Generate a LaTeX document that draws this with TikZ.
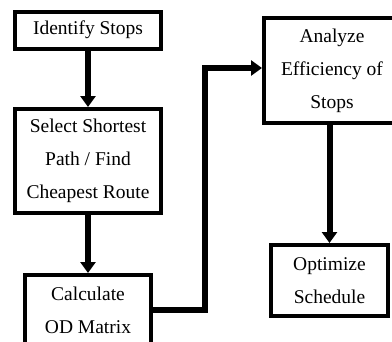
\documentclass[tikz,border=0pt]{standalone}
\usepackage{fontspec}
\setmainfont{Liberation Serif}
\usetikzlibrary{arrows.meta}
\begin{document}
\begin{tikzpicture}[
    x=1pt,y=-1pt,
    >={Triangle[width=15pt,length=11pt]},
    box/.style={draw=black,line width=4pt,fill=white,align=center,inner sep=0,
      font=\fontsize{19.5}{33}\selectfont},
    flow/.style={->,line width=6pt}
    ]
    \clip (0,0) rectangle (392,341);

    % boxes
    \node[box,minimum width=146pt,minimum height=37pt] (ident) at (88,30) {Identify Stops};
    \node[box,minimum width=146pt,minimum height=104pt] (select) at (88,161)
      {Select Shortest\\Path / Find\\Cheapest Route};
    \node[box,minimum width=126pt,minimum height=70pt] (calc) at (88,310)
      {Calculate\\OD Matrix};
    \node[box,minimum width=136pt,minimum height=105pt] (analyze) at (332,70.5)
      {Analyze\\Efficiency of\\Stops};
    \node[box,minimum width=117pt,minimum height=71pt] (optim) at (329.5,280.5)
      {Optimize\\Schedule};

    % arrows
    \coordinate (bend) at (205,310);
    \draw [flow] (ident) to (select);
    \draw [flow] (select) to (calc);
    \draw [flow] (calc.east |- bend) -- (bend) |- (analyze.west |- 0,68);
    \draw [flow] (analyze.south -| optim) to (optim);
\end{tikzpicture}
\end{document}
